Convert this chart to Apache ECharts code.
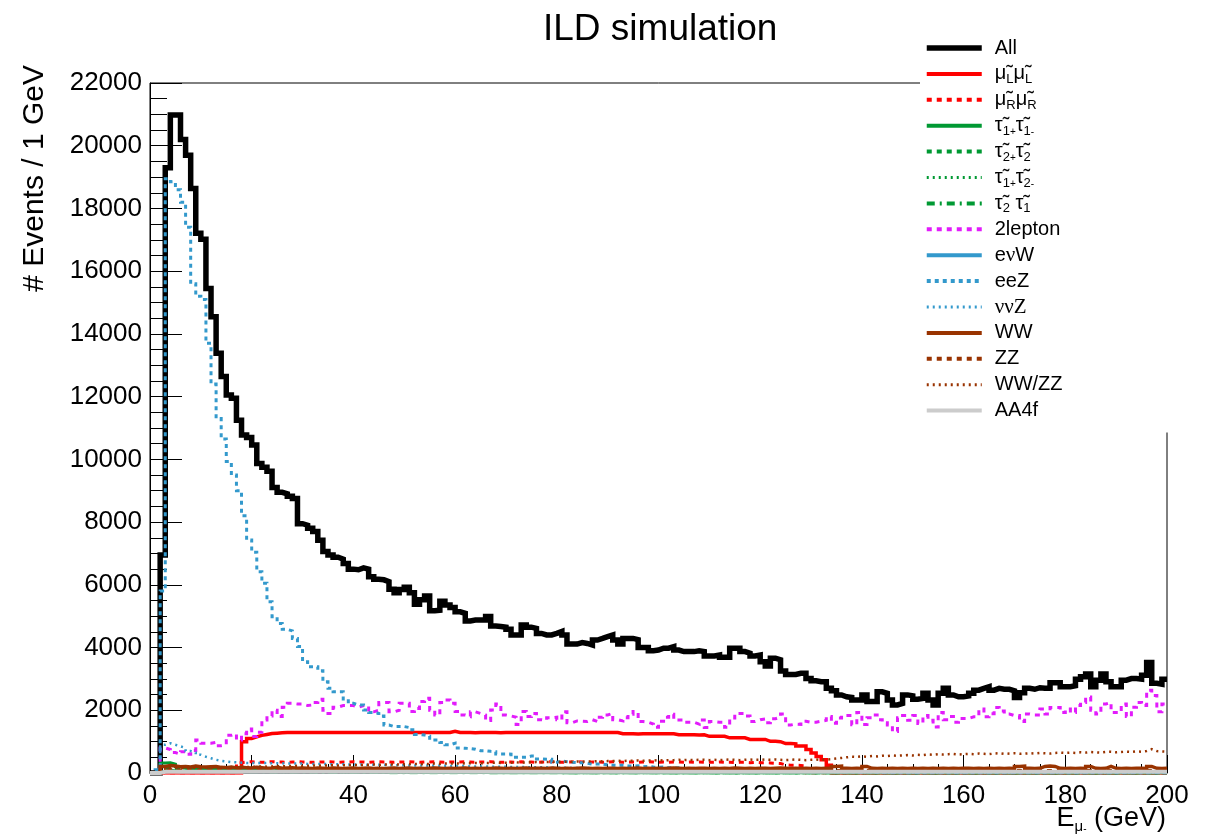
<!DOCTYPE html>
<html>
<head>
<meta charset="utf-8">
<script src="https://cdn.jsdelivr.net/npm/echarts@6/dist/echarts.min.js"></script>
<style>
  html, body { margin: 0; padding: 0; background: #ffffff; }
  #chart { width: 1209px; height: 837px; }
</style>
</head>
<body>
<div id="chart"></div>
<script>
// Muon energy spectra, 1 GeV bins from 0 to 200 GeV (events per bin)
const binWidth = 1;

const allEvents = [
  0,0,6950,19300,20980,20980,20200,19700,18640,17210,
  17020,15450,14550,13380,12640,12050,11950,11250,10780,10700,
  10460,9870,9750,9620,9100,8950,8900,8820,8750,7950,
  7900,7800,7700,7420,7060,6950,6880,6820,6680,6500,
  6480,6540,6500,6260,6180,6160,6100,5860,5750,5850,
  5920,5750,5380,5520,5640,5170,5190,5480,5360,5280,
  5140,5090,4850,4880,4880,4880,4990,4690,4670,4650,
  4580,4400,4400,4720,4650,4610,4450,4400,4400,4450,
  4510,4400,4110,4110,4160,4130,4080,4240,4290,4350,
  4400,4240,4110,4290,4290,4250,4000,4000,3900,3920,
  3980,3980,4030,3920,3870,3870,3870,3900,3870,3730,
  3730,3760,3690,3690,3980,3980,3870,3820,3730,3760,
  3550,3410,3660,3610,3250,3140,3140,3180,3180,3010,
  2940,2910,2910,2700,2620,2490,2430,2410,2330,2330,
  2490,2280,2280,2590,2540,2330,2170,2220,2490,2460,
  2350,2380,2540,2330,2170,2540,2700,2490,2430,2430,
  2460,2540,2640,2700,2750,2640,2700,2670,2670,2620,
  2410,2560,2700,2670,2720,2700,2700,2880,2880,2750,
  2750,2780,2990,3070,3160,2750,2960,3160,2910,2750,
  2750,2960,3010,3010,2990,3120,3520,2860,2830,2990
];

const smuonL = [
  0,0,0,0,0,0,0,0,0,0,
  0,0,0,0,0,0,0,0,1000,1100,
  1150,1200,1230,1260,1270,1280,1290,1290,1290,1290,
  1290,1290,1290,1290,1290,1290,1290,1290,1290,1290,
  1290,1290,1290,1290,1290,1290,1290,1290,1290,1290,
  1290,1290,1290,1290,1290,1290,1290,1290,1290,1330,
  1290,1290,1290,1280,1290,1290,1290,1290,1280,1290,
  1290,1290,1290,1290,1290,1290,1290,1290,1290,1290,
  1290,1290,1290,1290,1290,1290,1290,1290,1290,1290,
  1290,1290,1250,1250,1250,1240,1250,1250,1250,1250,
  1250,1250,1250,1220,1220,1220,1220,1210,1220,1170,
  1170,1170,1170,1120,1120,1120,1120,1070,1070,1070,
  1070,1010,1010,1000,940,940,930,860,860,750,
  640,530,420,250,0,0,0,0,0,0,
  0,0,0,0,0,0,0,0,0,0,
  0,0,0,0,0,0,0,0,0,0,
  0,0,0,0,0,0,0,0,0,0,
  0,0,0,0,0,0,0,0,0,0,
  0,0,0,0,0,0,0,0,0,0,
  0,0,0,0,0,0,0,0,0,0
];

const smuonR = [
  0,0,0,0,0,0,0,0,0,0,
  0,0,0,0,0,0,0,330,350,360,
  350,340,350,360,350,350,340,350,360,350,
  350,340,350,350,360,350,340,350,350,360,
  350,350,340,350,360,350,350,340,350,350,
  360,350,340,350,350,360,350,340,350,350,
  350,360,350,340,350,350,360,350,340,350,
  350,340,360,350,350,340,350,350,360,350,
  340,350,350,360,350,340,350,350,340,350,
  360,350,340,350,350,340,350,360,350,340,
  350,340,350,350,340,350,340,350,340,340,
  340,350,340,340,330,340,340,330,340,330,
  330,320,310,300,260,250,250,240,230,0,
  0,0,0,0,0,0,0,0,0,0,
  0,0,0,0,0,0,0,0,0,0,
  0,0,0,0,0,0,0,0,0,0,
  0,0,0,0,0,0,0,0,0,0,
  0,0,0,0,0,0,0,0,0,0,
  0,0,0,0,0,0,0,0,0,0,
  0,0,0,0,0,0,0,0,0,0
];

const stau11 = [
  0,0,320,330,280,200,160,140,130,120,
  120,110,110,100,100,100,90,90,90,80,
  80,80,80,70,70,70,70,60,60,60,
  60,60,50,50,50,50,50,40,40,40,
  40,40,40,40,30,30,30,30,30,30,
  30,30,30,20,20,20,20,20,20,20,
  20,20,20,20,20,20,10,10,10,10,
  10,10,10,10,10,10,10,10,10,10,
  10,10,10,10,10,10,10,10,10,10,
  10,10,10,10,10,10,10,10,10,10,
  0,0,0,0,0,0,0,0,0,0,
  0,0,0,0,0,0,0,0,0,0,
  0,0,0,0,0,0,0,0,0,0,
  0,0,0,0,0,0,0,0,0,0,
  0,0,0,0,0,0,0,0,0,0,
  0,0,0,0,0,0,0,0,0,0,
  0,0,0,0,0,0,0,0,0,0,
  0,0,0,0,0,0,0,0,0,0,
  0,0,0,0,0,0,0,0,0,0,
  0,0,0,0,0,0,0,0,0,0
];

const stau22 = [
  0,0,150,160,150,140,150,140,140,130,
  140,130,130,140,130,130,120,130,120,120,
  120,110,120,110,100,110,100,90,100,90,
  90,90,80,80,80,80,70,70,70,70,
  60,60,60,60,60,50,50,50,50,50,
  50,40,40,40,40,40,40,40,30,30,
  30,30,30,30,30,30,30,20,20,20,
  20,20,20,20,20,20,20,20,20,20,
  10,10,10,10,10,10,10,10,10,10,
  10,10,10,10,10,10,10,10,10,10,
  10,10,10,10,10,10,10,10,10,10,
  0,0,0,0,0,0,0,0,0,0,
  0,0,0,0,0,0,0,0,0,0,
  0,0,0,0,0,0,0,0,0,0,
  0,0,0,0,0,0,0,0,0,0,
  0,0,0,0,0,0,0,0,0,0,
  0,0,0,0,0,0,0,0,0,0,
  0,0,0,0,0,0,0,0,0,0,
  0,0,0,0,0,0,0,0,0,0,
  0,0,0,0,0,0,0,0,0,0
];

const stau12 = [
  0,0,70,80,70,70,60,60,60,60,
  60,50,50,50,50,50,50,40,40,40,
  40,40,40,40,30,30,30,30,30,30,
  30,30,30,20,20,20,20,20,20,20,
  20,20,20,20,20,20,20,20,10,10,
  10,10,10,10,10,10,10,10,10,10,
  10,10,10,10,10,10,10,10,10,10,
  10,10,10,10,10,10,10,10,10,10,
  0,0,0,0,0,0,0,0,0,0,
  0,0,0,0,0,0,0,0,0,0,
  0,0,0,0,0,0,0,0,0,0,
  0,0,0,0,0,0,0,0,0,0,
  0,0,0,0,0,0,0,0,0,0,
  0,0,0,0,0,0,0,0,0,0,
  0,0,0,0,0,0,0,0,0,0,
  0,0,0,0,0,0,0,0,0,0,
  0,0,0,0,0,0,0,0,0,0,
  0,0,0,0,0,0,0,0,0,0,
  0,0,0,0,0,0,0,0,0,0,
  0,0,0,0,0,0,0,0,0,0
];

const stau21 = [
  0,0,60,70,70,60,60,60,50,50,
  50,50,50,50,40,40,40,40,40,40,
  40,40,30,30,30,30,30,30,30,30,
  30,30,20,20,20,20,20,20,20,20,
  20,20,20,20,20,20,10,10,10,10,
  10,10,10,10,10,10,10,10,10,10,
  10,10,10,10,10,10,10,10,10,10,
  10,10,10,10,10,10,10,10,10,10,
  0,0,0,0,0,0,0,0,0,0,
  0,0,0,0,0,0,0,0,0,0,
  0,0,0,0,0,0,0,0,0,0,
  0,0,0,0,0,0,0,0,0,0,
  0,0,0,0,0,0,0,0,0,0,
  0,0,0,0,0,0,0,0,0,0,
  0,0,0,0,0,0,0,0,0,0,
  0,0,0,0,0,0,0,0,0,0,
  0,0,0,0,0,0,0,0,0,0,
  0,0,0,0,0,0,0,0,0,0,
  0,0,0,0,0,0,0,0,0,0,
  0,0,0,0,0,0,0,0,0,0
];

const twoLepton = [
  0,50,800,750,650,600,680,600,720,1050,
  950,950,980,870,900,1200,1250,1050,1250,1400,
  1160,1300,1690,1820,2000,1800,2100,2220,2200,2200,
  2150,2170,2250,2350,2000,1900,2100,2150,2150,2150,
  2100,2150,2150,1950,2000,2250,2250,1950,2000,2220,
  2220,1960,2060,2280,2380,2000,1850,2250,2330,2220,
  1960,1850,1800,1950,1900,1850,1670,2010,2200,1850,
  1820,1780,1550,1960,1800,1900,1700,1680,1760,1780,
  1700,1950,1600,1660,1650,1640,1700,1640,1780,1850,
  1900,1700,1660,1760,1870,1960,1640,1620,1560,1460,
  1650,1780,1870,1690,1690,1620,1620,1560,1690,1450,
  1640,1620,1620,1460,1750,1900,1900,1820,1640,1700,
  1720,1600,1730,1780,1880,1530,1560,1550,1650,1620,
  1620,1650,1680,1800,1590,1750,1830,1830,1540,1930,
  1550,1760,1850,1700,1600,1530,1320,1760,1830,1680,
  1830,1580,1830,1680,1470,1930,1700,1800,1620,1740,
  1740,1790,1790,2040,1790,1890,2090,1980,1880,1830,
  1830,1640,1880,1850,1850,2040,1880,2090,2090,1930,
  2040,1930,2150,2250,2420,2000,1880,2200,2250,1930,
  1930,2200,1800,2100,2250,2150,2640,2470,1950,2200
];

const eNuW = [
  0,0,40,50,50,40,40,40,40,40,
  40,40,40,40,40,40,40,40,40,40,
  40,40,40,40,40,40,40,40,40,40,
  40,40,40,40,40,40,40,40,40,40,
  40,40,40,40,40,40,40,40,40,40,
  40,40,40,40,40,40,40,40,40,40,
  40,40,40,40,40,40,40,40,40,40,
  40,40,40,40,40,40,40,40,40,40,
  40,40,40,40,40,40,40,40,40,40,
  40,40,40,40,40,40,40,40,40,40,
  40,40,40,40,40,40,40,40,40,40,
  40,40,40,40,40,40,40,40,40,40,
  40,40,40,40,40,40,40,40,40,40,
  40,40,40,40,40,40,40,40,40,40,
  40,40,40,40,40,40,40,40,40,40,
  40,40,40,40,40,40,40,40,40,40,
  40,40,40,40,40,40,40,40,40,40,
  40,40,40,40,40,40,40,40,40,40,
  40,40,40,40,40,40,40,40,40,40,
  40,40,40,40,40,40,40,40,40,40
];

const eeZ = [
  0,100,5800,18950,18850,18600,18200,17400,15600,15200,
  15100,13700,12400,11300,10650,9930,9500,9000,8200,7430,
  7040,6420,6050,5460,4985,4770,4580,4530,4290,4030,
  3550,3390,3390,3260,2910,2700,2590,2590,2300,2220,
  2170,2170,2010,1930,1900,1820,1530,1480,1480,1480,
  1450,1380,1230,1210,1180,1050,1050,970,900,950,
  800,790,780,760,712,712,690,680,606,606,
  600,500,500,500,540,540,450,436,436,340,
  380,360,340,330,330,310,280,287,287,260,
  250,240,250,230,220,230,200,210,190,180,
  190,170,160,170,150,140,150,130,140,120,
  130,110,120,100,110,90,100,90,80,90,
  70,80,70,60,70,60,50,60,50,40,
  50,40,40,50,40,30,30,40,30,20,
  40,30,20,10,10,0,0,0,0,0,
  0,0,0,0,0,0,0,0,0,0,
  0,0,0,0,0,0,0,0,0,0,
  0,0,0,0,0,0,0,0,0,0,
  0,0,0,0,0,0,0,0,0,0,
  0,0,0,0,0,0,0,0,0,0
];

const nuNuZ = [
  0,0,900,950,900,850,800,700,650,580,
  520,470,420,390,370,350,340,330,320,320,
  320,320,320,310,310,310,300,300,300,300,
  290,290,290,290,280,280,280,280,270,270,
  270,270,260,260,260,260,250,250,250,250,
  240,240,240,240,230,230,230,230,220,220,
  220,220,210,210,210,210,200,200,200,200,
  190,190,190,190,180,180,180,180,170,170,
  170,170,160,160,160,160,150,150,150,150,
  140,140,140,140,130,130,130,130,120,120,
  120,120,110,110,110,110,100,100,100,100,
  90,90,90,90,80,80,80,80,70,70,
  70,70,60,60,60,60,50,50,50,50,
  40,40,40,40,30,30,30,30,20,20,
  20,20,20,10,10,10,10,10,10,10,
  0,0,0,0,0,0,0,0,0,0,
  0,0,0,0,0,0,0,0,0,0,
  0,0,0,0,0,0,0,0,0,0,
  0,0,0,0,0,0,0,0,0,0,
  0,0,0,0,0,0,0,0,0,0
];

const wwPairs = [
  0,0,210,240,220,200,210,190,220,200,
  190,200,210,180,170,190,160,180,170,160,
  180,170,150,160,180,150,160,170,150,160,
  150,140,160,150,140,160,150,140,150,160,
  140,150,160,140,150,140,150,160,140,150,
  160,140,150,140,150,160,150,140,150,140,
  150,160,140,150,140,150,140,160,150,140,
  150,140,150,160,140,150,150,140,160,150,
  140,150,140,150,160,150,140,150,140,150,
  150,140,150,140,150,160,140,150,140,150,
  140,150,160,150,140,150,140,150,150,140,
  150,140,150,140,160,150,140,150,140,150,
  150,140,150,160,150,140,150,140,150,140,
  150,140,150,140,210,220,150,140,150,140,
  210,150,140,150,140,150,140,150,140,150,
  140,150,140,150,140,150,140,150,140,150,
  150,140,150,140,150,140,150,140,150,140,
  210,220,150,140,150,210,220,210,150,140,
  150,140,150,140,210,150,140,150,210,150,
  140,150,140,150,150,140,210,150,140,150
];

const zzPairs = [
  0,0,90,110,100,90,100,90,100,90,
  90,90,80,90,90,80,90,80,90,80,
  80,90,80,80,90,80,80,80,90,80,
  80,80,80,90,80,80,80,80,80,90,
  80,80,80,80,80,80,90,80,80,80,
  80,80,80,80,80,80,80,80,80,80,
  80,80,80,80,80,80,80,80,80,80,
  80,80,80,80,80,80,80,80,80,80,
  80,80,80,80,80,80,80,80,80,80,
  80,80,80,80,80,80,80,80,80,80,
  80,80,80,80,80,80,80,80,80,80,
  80,80,80,80,80,80,80,80,80,80,
  80,80,80,80,80,80,80,80,80,80,
  80,80,80,80,80,80,80,80,80,80,
  80,80,80,80,80,80,80,80,80,80,
  80,80,80,80,80,80,80,80,80,80,
  80,80,80,80,80,80,80,80,80,80,
  80,80,80,80,80,80,80,80,80,80,
  80,80,80,80,80,80,80,80,80,80,
  80,80,80,80,80,80,80,80,80,80
];

const wwzzMixed = [
  0,0,0,150,160,150,160,170,160,170,
  170,180,170,180,190,180,190,200,190,200,
  200,210,200,210,220,210,220,220,230,220,
  230,240,230,240,240,250,240,250,250,260,
  250,260,260,270,260,270,270,280,270,280,
  280,290,280,290,290,300,290,300,300,310,
  300,310,310,320,310,320,320,330,320,330,
  330,340,330,340,340,350,340,350,350,360,
  350,360,360,370,360,370,370,380,370,380,
  380,390,380,390,390,400,390,400,400,410,
  400,410,410,420,410,420,410,420,420,410,
  420,410,420,430,420,410,420,430,420,420,
  430,420,430,420,410,420,430,420,410,420,
  430,420,430,440,460,480,500,520,510,530,
  520,540,530,550,540,560,550,560,570,560,
  580,570,590,580,600,590,600,610,590,600,
  610,600,620,610,600,620,630,610,620,630,
  610,620,630,620,640,630,620,640,650,640,
  650,640,660,650,670,660,650,670,680,660,
  670,680,670,690,680,700,760,700,690,680
];

const aa4f = [
  0,0,40,40,40,40,40,40,40,40,
  40,40,40,40,40,40,40,40,40,40,
  40,40,40,40,40,40,40,40,40,40,
  40,40,40,40,40,40,40,40,40,40,
  40,40,40,40,40,40,40,40,40,40,
  40,40,40,40,40,40,40,40,40,40,
  40,40,40,40,40,40,40,40,40,40,
  40,40,40,40,40,40,40,40,40,40,
  40,40,40,40,40,40,40,40,40,40,
  40,40,40,40,40,40,40,40,40,40,
  40,40,40,40,40,40,40,40,40,40,
  40,40,40,40,40,40,40,40,40,40,
  40,40,40,40,40,40,40,40,40,40,
  40,40,40,40,40,40,40,40,40,40,
  40,40,40,40,40,40,40,40,40,40,
  40,40,40,40,40,40,40,40,40,40,
  40,40,40,40,40,40,40,40,40,40,
  40,40,40,40,40,40,40,40,40,40,
  40,40,40,40,40,40,40,40,40,40,
  40,40,40,40,40,40,40,40,40,40
];

// Axis ranges and tick spacing
const xRange = [0, 200];
const xStep = 20;
const yRange = [0, 22000];
const yStep = 2000;

// Legend labels (rich text) keyed by series name
const legendLabels = {
  'All':    '{sp| }{t|All}',
  'muLmuL': '{sp| }{t|μ̃}{s|L}{t|μ̃}{s|L}',
  'muRmuR': '{sp| }{t|μ̃}{s|R}{t|μ̃}{s|R}',
  'tau11':  '{sp| }{t|τ̃}{s|1}{p|+}{t|τ̃}{s|1}{p|-}',
  'tau22':  '{sp| }{t|τ̃}{s|2}{p|+}{t|τ̃}{s|2}',
  'tau12':  '{sp| }{t|τ̃}{s|1}{p|+}{t|τ̃}{s|2}{p|-}',
  'tau21':  '{sp| }{t|τ̃}{s|2}{t| τ̃}{s|1}',
  '2lepton':'{sp| }{t|2lepton}',
  'eNuW':   '{sp| }{t|e}{n|ν}{t|W}',
  'eeZ':    '{sp| }{t|eeZ}',
  'nuNuZ':  '{sp| }{n|ννZ}',
  'WW':     '{sp| }{t|WW}',
  'ZZ':     '{sp| }{t|ZZ}',
  'WW/ZZ':  '{sp| }{t|WW/ZZ}',
  'AA4f':   '{sp| }{t|AA4f}'
};

// name, values, colour, line width, dash, legend line width
const seriesSpecs = [
  ['All',     allEvents,  '#000000', 5.5, 'solid',       5.5],
  ['muLmuL',  smuonL,     '#ff0000', 3.5, 'solid',       4],
  ['muRmuR',  smuonR,     '#ff0000', 3,   [5, 5],        4],
  ['tau11',   stau11,     '#009933', 3,   'solid',       4],
  ['tau22',   stau22,     '#009933', 3,   [5, 5],        4],
  ['tau12',   stau12,     '#009933', 2.5, [2, 4],        3],
  ['tau21',   stau21,     '#009933', 3,   [8, 5, 2, 5],  4],
  ['2lepton', twoLepton,  '#e21cfb', 3,   [5, 5],        4],
  ['eNuW',    eNuW,       '#3399cc', 3,   'solid',       4],
  ['eeZ',     eeZ,        '#3399cc', 3,   [4, 4],        4],
  ['nuNuZ',   nuNuZ,      '#3399cc', 2.5, [2, 4],        3],
  ['WW',      wwPairs,    '#993300', 3.5, 'solid',       4],
  ['ZZ',      zzPairs,    '#993300', 3,   [5, 5],        4],
  ['WW/ZZ',   wwzzMixed,  '#993300', 2.5, [2, 4],        3],
  ['AA4f',    aa4f,       '#cccccc', 4,   'solid',       4]
];

// Histogram outline: one point per bin low edge plus the final upper edge
function histPoints(values) {
  const pts = values.map((v, i) => [i * binWidth, v]);
  pts.push([values.length * binWidth, values[values.length - 1]]);
  return pts;
}

const FONT = 'Liberation Sans';

const series = seriesSpecs.map(([name, vals, color, width, dash]) => ({
  name: name,
  type: 'line',
  step: 'end',
  data: histPoints(vals),
  symbol: 'none',
  showSymbol: false,
  silent: true,
  animation: false,
  clip: true,
  lineStyle: { color: color, width: width, type: dash, cap: 'butt', join: 'miter' },
  itemStyle: { color: color }
}));

const chart = echarts.init(document.getElementById('chart'), null, { renderer: 'canvas' });

chart.setOption({
  backgroundColor: '#ffffff',
  animation: false,
  title: {
    text: 'ILD simulation',
    left: 538,
    top: 6,
    textStyle: { fontFamily: FONT, fontSize: 37, fontWeight: 'normal', color: '#000' }
  },
  grid: {
    left: 150, right: 42, top: 83, bottom: 64,
    containLabel: false,
    outerBoundsMode: 'none',
    show: true, borderColor: '#000', borderWidth: 1, backgroundColor: 'transparent'
  },
  legend: {
    orient: 'vertical',
    left: 920, top: 36,
    padding: [0, 110, 10, 4],
    backgroundColor: '#ffffff',
    itemWidth: 55, itemHeight: 24, itemGap: 1.9,
    selectedMode: false,
    itemStyle: { color: 'transparent', borderWidth: 0, opacity: 0 },
    data: seriesSpecs.map(s => ({
      name: s[0],
      lineStyle: { width: s[5], type: s[4], color: s[2], cap: 'butt' }
    })),
    formatter: name => legendLabels[name],
    textStyle: {
      fontFamily: FONT, fontSize: 20, lineHeight: 24, color: '#000',
      rich: {
        sp: { width: 8, lineHeight: 24 },
        t: { fontFamily: FONT, fontSize: 20, lineHeight: 24, color: '#000' },
        s: { fontFamily: FONT, fontSize: 13, lineHeight: 12, verticalAlign: 'bottom', color: '#000' },
        p: { fontFamily: FONT, fontSize: 10, lineHeight: 9, verticalAlign: 'bottom', color: '#000' },
        n: { fontFamily: 'Liberation Serif', fontSize: 21, lineHeight: 24, color: '#000' }
      }
    }
  },
  xAxis: {
    type: 'value',
    min: xRange[0], max: xRange[1], interval: xStep,
    axisLine: { show: true, lineStyle: { color: '#000', width: 1 } },
    axisTick: { show: true, inside: true, length: 18, lineStyle: { color: '#000', width: 1 } },
    minorTick: { show: true, splitNumber: 4, length: 9, lineStyle: { color: '#000', width: 1 } },
    axisLabel: { fontFamily: FONT, fontSize: 26, color: '#000', margin: 10, formatter: v => String(v) },
    splitLine: { show: false }
  },
  yAxis: {
    type: 'value',
    min: yRange[0], max: yRange[1], interval: yStep,
    axisLine: { show: true, lineStyle: { color: '#000', width: 1 } },
    axisTick: { show: true, inside: true, length: 32, lineStyle: { color: '#000', width: 1 } },
    minorTick: { show: true, splitNumber: 4, length: 17, lineStyle: { color: '#000', width: 1 } },
    axisLabel: { fontFamily: FONT, fontSize: 26, color: '#000', margin: 8, formatter: v => String(v) },
    splitLine: { show: false }
  },
  graphic: [
    {
      // y-axis title, reading upwards and ending level with the top of the axis
      type: 'text',
      x: 35, y: 65,
      rotation: Math.PI / 2,
      style: {
        text: '# Events / 1 GeV',
        font: '30px "Liberation Sans"',
        fill: '#000',
        align: 'right',
        verticalAlign: 'middle'
      }
    },
    {
      // x-axis title, right-aligned under the end of the axis
      type: 'text',
      x: 1166, y: 804,
      style: {
        text: '{e|E}{m|μ}{q|-}{e| (GeV)}',
        align: 'right',
        verticalAlign: 'top',
        rich: {
          e: { fontFamily: FONT, fontSize: 27, lineHeight: 30, fill: '#000', color: '#000' },
          m: { fontFamily: FONT, fontSize: 15, lineHeight: 13, verticalAlign: 'bottom', fill: '#000', color: '#000' },
          q: { fontFamily: FONT, fontSize: 10, lineHeight: 22, verticalAlign: 'bottom', fill: '#000', color: '#000' }
        }
      }
    }
  ],
  series: series
});
</script>
</body>
</html>
